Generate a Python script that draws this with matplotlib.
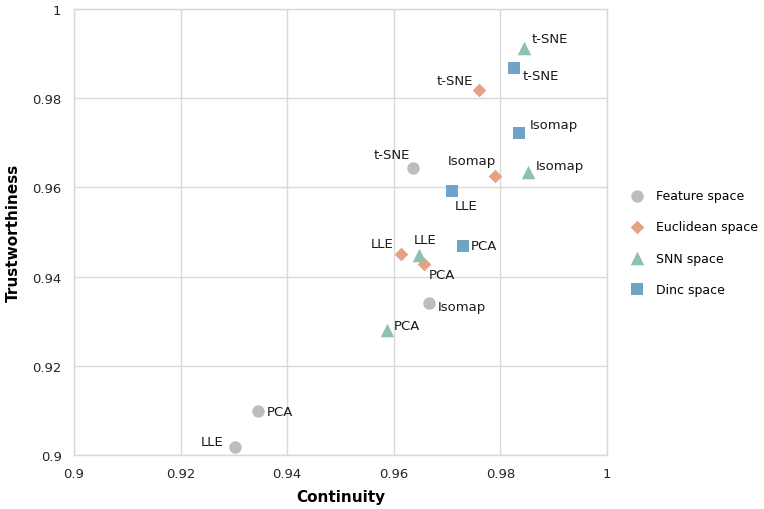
import numpy as np
import matplotlib.pyplot as plt

# data
methods = ["PCA", "LLE", "Isomap", "t-SNE"]
spaces = ["Feature space", "Euclidean space", "SNN space", "Dinc space"]

feature_cont = [0.9345, 0.9303, 0.9666, 0.9636]
feature_trust = [0.9098, 0.9019, 0.9341, 0.9644]
euclid_cont = [0.9656, 0.9613, 0.9790, 0.9760]
euclid_trust = [0.9428, 0.9450, 0.9626, 0.9818]
snn_cont = [0.9587, 0.9647, 0.9852, 0.9845]
snn_trust = [0.9280, 0.9448, 0.9635, 0.9913]
dinc_cont = [0.9730, 0.9709, 0.9834, 0.9825]
dinc_trust = [0.9469, 0.9591, 0.9722, 0.9868]

colors = ["#bdbdbd", "#e4a282", "#8ec2ad", "#6fa4c7"]
markers = ["o", "D", "^", "s"]
sizes = [80, 48, 95, 85]

# label offsets in pixels (dx, dy, ha) per space, per method order PCA, LLE, Isomap, t-SNE
offsets = [
    [(9, 0, "left"), (-12, 5, "right"), (9, -4, "left"), (-3, 13, "right")],
    [(5, -10, "left"), (-7, 11, "right"), (1, 15, "right"), (-6, 10, "right")],
    [(7, 5, "left"), (6, 16, "center"), (8, 6, "left"), (7, 9, "left")],
    [(8, 0, "left"), (14, -14, "center"), (11, 8, "left"), (9, -8, "left")],
]

all_x = [feature_cont, euclid_cont, snn_cont, dinc_cont]
all_y = [feature_trust, euclid_trust, snn_trust, dinc_trust]

fig = plt.figure(figsize=(7.64, 5.10), dpi=100)
ax = fig.add_axes([74 / 764, 1 - 456 / 510, 533 / 764, 446 / 510])

for i in range(4):
    ax.scatter(all_x[i], all_y[i], c=colors[i], marker=markers[i], s=sizes[i],
               label=spaces[i], zorder=3, linewidths=0)
    for j, m in enumerate(methods):
        dx, dy, ha = offsets[i][j]
        ax.annotate(m, (all_x[i][j], all_y[i][j]), xytext=(dx, dy),
                    textcoords="offset pixels", ha=ha, va="center",
                    fontsize=9.5, color="#1a1a1a", zorder=4)

ax.set_xlim(0.9, 1.0)
ax.set_ylim(0.9, 1.0)
ticks = [0.9, 0.92, 0.94, 0.96, 0.98, 1.0]
ticklabels = ["0.9", "0.92", "0.94", "0.96", "0.98", "1"]
ax.set_xticks(ticks)
ax.set_xticklabels(ticklabels)
ax.set_yticks(ticks)
ax.set_yticklabels(ticklabels)
ax.tick_params(length=0, labelsize=9.5, colors="#262626", pad=9)
ax.grid(True, color="#d9d9d9", linewidth=1)
for s in ax.spines.values():
    s.set_color("#d9d9d9")
    s.set_linewidth(1)
ax.set_axisbelow(True)

ax.set_xlabel("Continuity", fontsize=11, fontweight="bold", labelpad=6)
ax.set_ylabel("Trustworthiness", fontsize=11, fontweight="bold", labelpad=8)

fig.legend(loc="center left", bbox_to_anchor=(631 / 764, 1 - 243.5 / 510),
           frameon=False, fontsize=9, labelspacing=1.45, handletextpad=1.0,
           handlelength=1.0, borderpad=0, borderaxespad=0, scatterpoints=1)

fig.savefig("out.png", dpi=100)
